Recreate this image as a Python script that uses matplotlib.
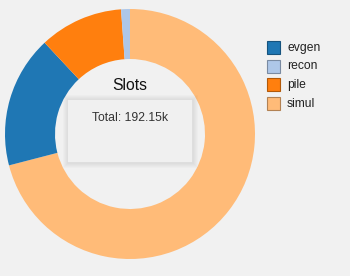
import matplotlib.pyplot as plt
from matplotlib.patches import Rectangle

plt.rcParams['font.family'] = ['Liberation Sans', 'DejaVu Sans']

# data (k slots)
labels = ['evgen', 'recon', 'pile', 'simul']
values = [32.8, 2.2, 20.8, 136.35]
colors = ['#1f77b4', '#aec7e8', '#ff7f0e', '#ffbb78']
edges = ['#16537e', '#7a8ba2', '#b25909', '#b28254']
total_text = 'Total: 192.15k'

W, H = 350, 276
fig = plt.figure(figsize=(W / 100, H / 100), dpi=100)
fig.patch.set_facecolor('#f1f1f1')
ax = fig.add_axes([0, 0, 1, 1])
ax.set_facecolor('#f1f1f1')

# d3 pie: sorted descending, clockwise from 12 o'clock
order = sorted(range(len(values)), key=lambda i: -values[i])
ax.pie([values[i] for i in order], colors=[colors[i] for i in order],
       startangle=90, counterclock=False, center=(130, H - 134), radius=125,
       wedgeprops=dict(width=50, linewidth=0), frame=True)

ax.set_xlim(0, W)
ax.set_ylim(0, H)
ax.set_aspect('auto')
ax.axis('off')

ax.text(130, H - 86, 'Slots', ha='center', va='center', fontsize=11.3, color='#111111')

# tooltip box with soft shadow
bx, by, bw, bh = 67, H - 162, 125, 63
for k in range(1, 6):
    ax.add_patch(Rectangle((bx - k + 0.5, by - k - 0.5), bw + 2 * k, bh + 2 * k,
                           facecolor='#000000', alpha=0.016, linewidth=0))
ax.add_patch(Rectangle((bx, by), bw, bh, facecolor='#f0f0f0',
                       edgecolor='#d8d8d8', linewidth=0.4))
ax.text(130, H - 118, total_text, ha='center', va='center', fontsize=8.8, color='#333333')

# legend
for j, lab in enumerate(labels):
    y = 41 + j * 18.7
    ax.add_patch(Rectangle((267, H - y - 13), 13, 13, facecolor=colors[j],
                           edgecolor=edges[j], linewidth=0.8))
    ax.text(287, H - y - 6.5, lab, ha='left', va='center', fontsize=8.7, color='#222222')

fig.savefig('out.png', dpi=100, facecolor=fig.get_facecolor())
